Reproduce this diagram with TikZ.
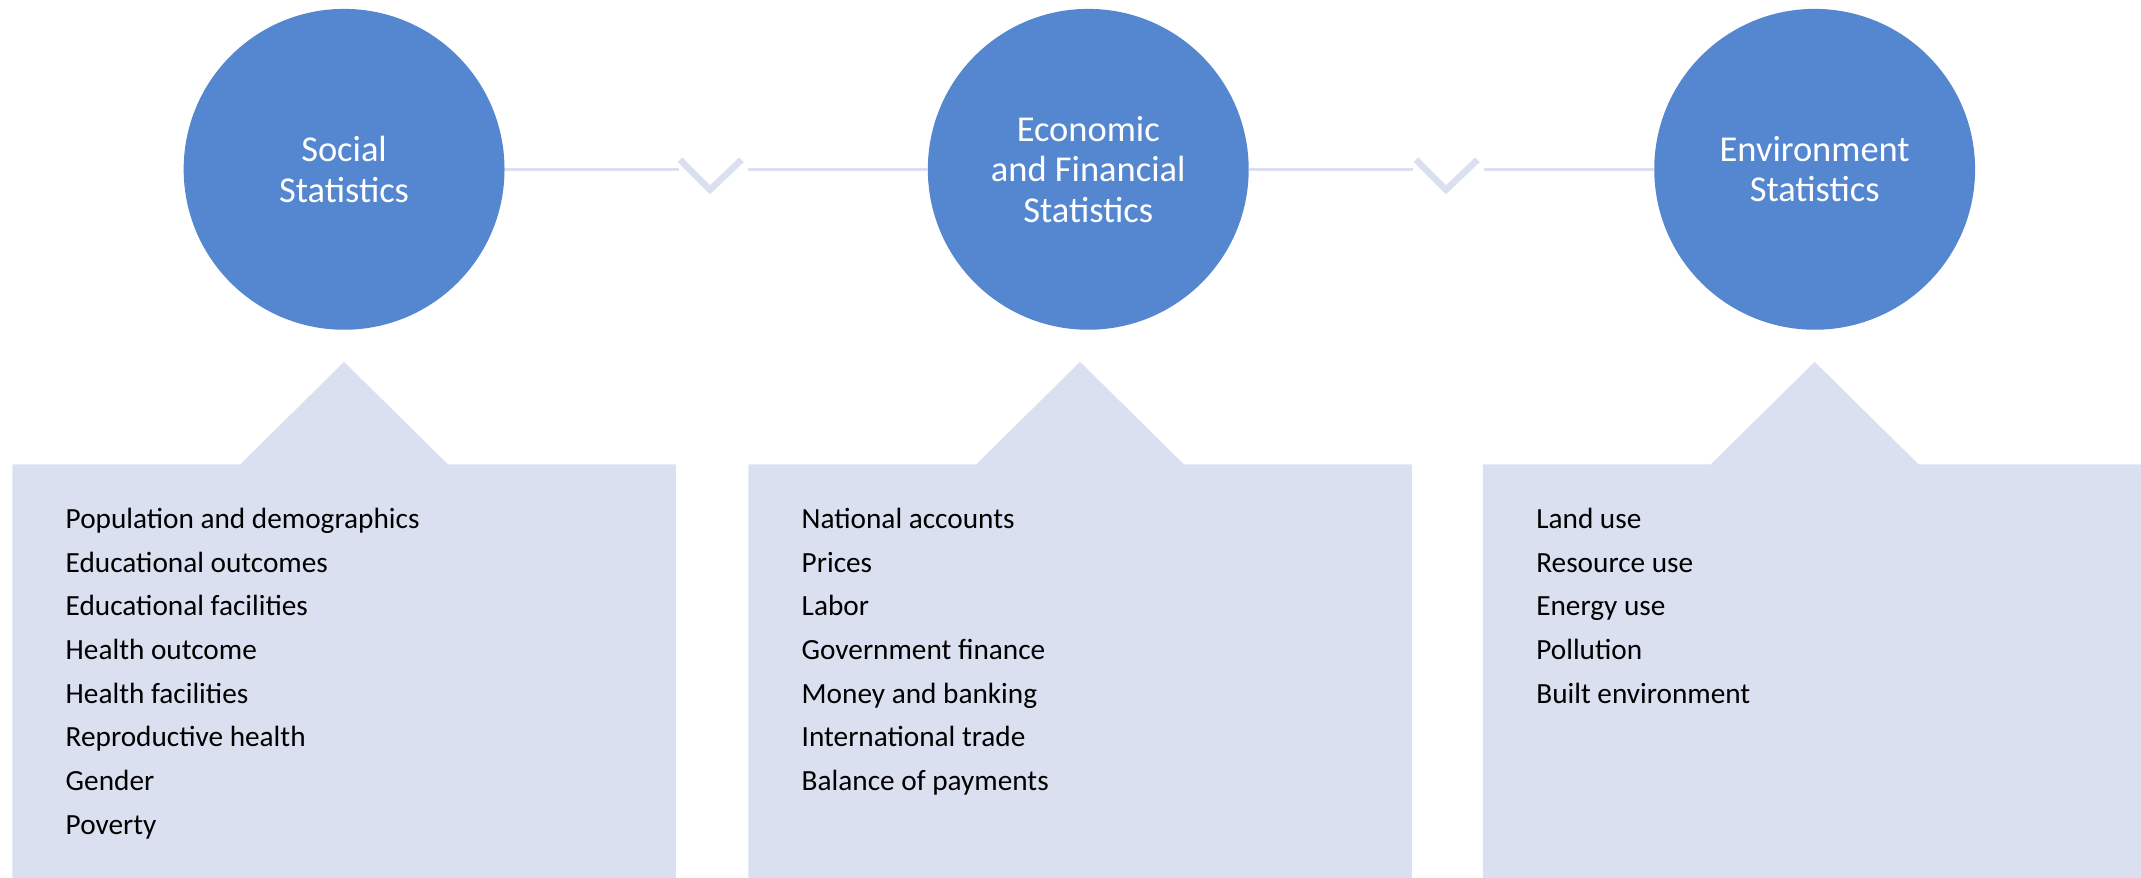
\documentclass[tikz,border=0pt]{standalone}
\usepackage{fontspec}
\setmainfont{Carlito}
\usetikzlibrary{positioning}
\definecolor{blob}{HTML}{5587D0}
\definecolor{pale}{HTML}{DAE0EF}
\tikzset{>=latex}
\tikzset{topic/.style = {circle, fill=blob, inner sep=0pt, minimum size=11.75cm, text=white, align=center, font=\fontsize{38}{42}\selectfont}}
\tikzset{item/.style = {anchor=base west, inner sep=0pt, font=\fontsize{30.5}{36}\selectfont}}
\tikzset{link/.style = {draw=pale, line width=0.13cm}}
\tikzset{notch/.style = {draw=pale, line width=0.24cm, miter limit=10}}

\begin{document}
\begin{tikzpicture}[x=0.05cm, y=-0.05cm]
\useasboundingbox (0,0) rectangle (1568,643);
% panels with pointer
\foreach \l/\c/\r in {9/252/495, 548/791/1034, 1086/1329/1568}
  \fill [pale] (\l,643) -- (\l,340) -- (\c-76,340) -- (\c,265) -- (\c+76,340) -- (\r,340) -- (\r,643) -- cycle;
% topics
\node [topic] (soc) at (252,124) {Social\\Statistics};
\node [topic] (eco) at (797,124) {Economic\\and Financial\\Statistics};
\node [topic] (env) at (1329,124) {Environment\\Statistics};
% links
\coordinate (g1a) at (497,124);
\coordinate (g1b) at (548,124);
\coordinate (g2a) at (1035,124);
\coordinate (g2b) at (1087,124);
\draw [link] (soc) -- (g1a);
\draw [link] (g1b) -- (eco);
\draw [link] (eco) -- (g2a);
\draw [link] (g2b) -- (env);
\draw [notch] (498,117) -- (520,139) -- (543,117);
\draw [notch] (1037,117) -- (1059,139) -- (1082,117);
% lists
\foreach \t [count=\i] in {Population and demographics, Educational outcomes, Educational facilities, Health outcome, Health facilities, Reproductive health, Gender, Poverty}
  \node [item] (soc\i) at (48, {387+32*(\i-1)}) {\t};
\foreach \t [count=\i] in {National accounts, Prices, Labor, Government finance, Money and banking, International trade, Balance of payments}
  \node [item] (eco\i) at (587, {387+32*(\i-1)}) {\t};
\foreach \t [count=\i] in {Land use, Resource use, Energy use, Pollution, Built environment}
  \node [item] (env\i) at (1125, {387+32*(\i-1)}) {\t};
\end{tikzpicture}
\end{document}
